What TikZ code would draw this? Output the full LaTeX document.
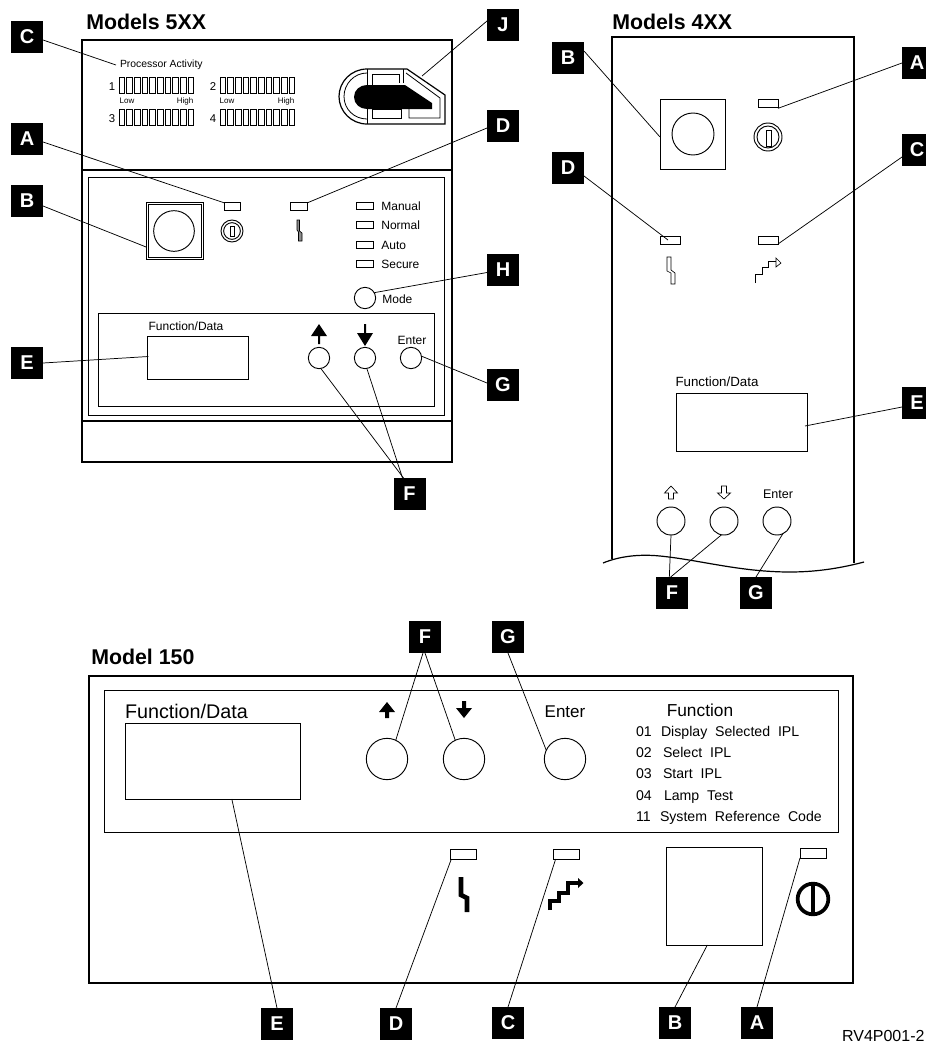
\documentclass[tikz,border=0pt]{standalone}
\usepackage{fontspec}
\setmainfont{Liberation Sans}
\usetikzlibrary{positioning}

\begin{document}
\begin{tikzpicture}[
    x=0.75pt, y=-0.75pt,
    node distance=6pt,
    tag/.style={rectangle, fill=black, text=white, minimum size=24pt, inner sep=0pt, outer sep=0pt, font=\bfseries\fontsize{15}{15}\selectfont},
    tagcut/.style={tag, minimum width=18pt},
    title/.style={anchor=west, inner sep=0pt, font=\bfseries\fontsize{16}{16}\selectfont},
    label/.style={inner sep=0pt, outer sep=0pt},
    led/.style={rectangle, draw, line width=0.6pt, fill=white, inner sep=0pt, outer sep=0pt, minimum width=12.5pt, minimum height=5.5pt},
    ledbig/.style={led, minimum width=19.5pt, minimum height=7.5pt},
    ledmid/.style={led, minimum width=15pt, minimum height=6pt},
    button/.style={circle, draw, line width=0.7pt, fill=white, inner sep=0pt, outer sep=0pt},
    screen/.style={rectangle, draw, line width=0.7pt, inner sep=0pt, outer sep=0pt},
    switchbox/.style={rectangle, draw, line width=0.7pt, inner sep=0pt, outer sep=0pt},
    panel/.style={draw, line width=1.1pt},
    subpanel/.style={draw, line width=0.7pt},
    leader/.style={draw, line width=0.55pt},
    cell/.style={draw, line width=0.45pt}
]

% Panels
\draw [panel] (82,40) rectangle (452,462);
\draw [subpanel, line width=0.9pt] (82,170) -- (452,170);
\draw [subpanel, line width=0.9pt] (82,421) -- (452,421);
\draw [subpanel] (88,177) rectangle (444,415);
\draw [subpanel] (98,313) rectangle (434,406);
\draw [panel] (612,559) -- (612,37) -- (854,37) -- (854,563);
\draw [line width=0.9pt] (603,563) .. controls (620,556) and (640,554) .. (660,556) .. controls (700,560) and (740,572) .. (790,572) .. controls (820,572) and (845,567) .. (864,562);
\draw [panel] (89,676) rectangle (853,983);
\draw [subpanel] (104,690) rectangle (838,832);

% Titles
\node (title5) [title] at (86,22) {Models 5XX};
\node (title4) [title] at (612,22) {Models 4XX};
\node (title1) [title] at (91,657) {Model 150};
\node (partno) [label, anchor=east, font=\fontsize{12}{12}\selectfont] at (924.5,1036) {RV4P001-2};

% Models 5XX: processor activity
\node (procact) [label, anchor=west, font=\fontsize{7.8}{8}\selectfont] at (120,65) {Processor Activity};
\foreach \num/\numx/\numy in {1/112/87, 2/213/87, 3/112/119, 4/213/119} {
    \node (proc\num) [label, font=\fontsize{8.5}{9}\selectfont] at (\numx,\numy) {\num};
}
\foreach \barx in {119, 220} {
    \foreach \bary in {77, 109} {
        \foreach \i in {0,...,9} {
            \draw [cell] ({\barx+\i*7.65},\bary) rectangle ({\barx+\i*7.65+5.6},\bary+16);
        }
    }
}
\foreach \txt/\txtx in {Low/127, High/185, Low/227, High/286} {
    \node [label, font=\fontsize{6}{6}\selectfont] at (\txtx,101) {\txt};
}

% Models 5XX: card slot
\draw [line width=0.9pt] (367,69) .. controls (351.5,69) and (339,81.5) .. (339,96.5) .. controls (339,111.5) and (351.5,124) .. (367,124) -- (445,124) -- (445,95) -- (407,69) -- cycle;
\draw [line width=0.6pt] (367,73) .. controls (354,73) and (344,84) .. (344,96.5) .. controls (344,109) and (354,119) .. (367,119);
\draw [line width=0.6pt] (367,69) -- (367,124);
\draw [line width=0.6pt] (372,109) -- (372,74) -- (399,74) -- (399,83);
\draw [line width=0.6pt] (372,109) rectangle (401,118);
\draw [line width=0.6pt] (403,83) -- (403,69);
\draw [line width=0.6pt] (406,73) -- (440,98) -- (440,118) -- (409,118) -- (409,109);
\fill [black] (367,85) .. controls (360,85) and (354,90) .. (354,97) .. controls (354,104) and (360,109) .. (367,109) -- (432,109) -- (432,103) -- (405,85) -- cycle;
\coordinate (slot) at (422,76);

% Models 5XX: controls
\node (switch5) [switchbox, minimum size=42.75pt] at (174.5,230.5) {};
\draw [line width=0.6pt] (148,204) rectangle (201,257);
\node (knob5) [button, minimum size=30.5pt] at (174,231) {};
\node (ledA5) [led] at (232.5,206.5) {};
\node (ledD5) [led] at (299,206.5) {};
\node (key5) [button, minimum size=16.5pt] at (232,231) {};
\node (keyin5) [button, minimum size=12.5pt] at (232,231) {};
\draw [line width=0.6pt] (230,226) rectangle (234,236);
\draw [line width=0.5pt, fill=black!45] (297,220) -- (299.5,220) -- (299.5,231) -- (302,233) -- (302,241) -- (298.5,241) -- (298.5,232) -- (297,230) -- cycle;
\foreach \mname/\my/\mtxt in {manual/206/Manual, normal/225/Normal, auto/245/Auto, secure/264/Secure} {
    \node (led\mname) [led] at (365,\my) {};
    \node [label, right=6pt of led\mname, font=\fontsize{9}{9}\selectfont] {\mtxt};
}
\node (mode) [button, minimum size=16pt] at (365,298) {};
\node [label, right=5pt of mode, yshift=-1pt, font=\fontsize{9}{9}\selectfont] {Mode};
\node (fd5) [label, font=\fontsize{9}{9}\selectfont] at (186,326) {Function/Data};
\node (display5) [screen, minimum width=75.75pt, minimum height=32.25pt] at (197.5,357.5) {};
\node (up5) [button, minimum size=16pt] at (319,358) {};
\node (down5) [button, minimum size=16pt] at (365,358) {};
\node (enter5) [button, minimum size=16pt] at (411,358) {};
\node [label, font=\fontsize{9}{9}\selectfont] at (412,340) {Enter};
\fill [black] (319,324) -- (327,336) -- (320,336) -- (320,344) -- (318,344) -- (318,336) -- (311,336) -- cycle;
\fill [black] (365,346) -- (357,333) -- (364,333) -- (364,324) -- (366,324) -- (366,333) -- (373,333) -- cycle;

% Models 5XX: tags
\node (tagC5) [tag] at (27,37) {C};
\node (tagA5) [tag] at (27,139) {A};
\node (tagB5) [tag] at (27,201) {B};
\node (tagE5) [tag] at (27,363) {E};
\node (tagJ5) [tag] at (503,25) {J};
\node (tagD5) [tag] at (503,126) {D};
\node (tagH5) [tag] at (503,269.5) {H};
\node (tagG5) [tag] at (503,385) {G};
\node (tagF5) [tag] at (409.5,494) {F};

% Models 5XX: connections
\draw [leader] ([yshift=-2.25pt]tagC5.east) -- ([xshift=-3pt]procact.west);
\draw [leader] ([yshift=-2.25pt]tagA5.east) -- (ledA5.north west);
\draw [leader] ([yshift=-3.75pt]tagB5.east) -- (switch5.210);
\draw [leader] (tagE5.east) -- ([yshift=0.75pt, xshift=1pt]display5.west);
\draw [leader] ([yshift=3pt]tagJ5.west) -- (slot);
\draw [leader] ([yshift=-1.5pt]tagD5.west) -- (ledD5.north east);
\draw [leader] ([yshift=-2.25pt]tagH5.west) -- (mode.30);
\draw [leader] ([yshift=1.5pt]tagG5.west) -- (enter5.10);
\draw [leader] ([xshift=-4.5pt]tagF5.north) -- (up5.-80);
\draw [leader] ([xshift=-5.25pt]tagF5.north) -- (down5.-80);

% Models 4XX: controls
\node (switch4) [switchbox, minimum width=48.75pt, minimum height=52.5pt] at (692.5,134) {};
\node (knob4) [button, minimum size=31.5pt] at (693,134) {};
\node (ledA4) [ledmid] at (768,103) {};
\node (key4) [button, minimum size=21pt] at (768,137) {};
\node (keyin4) [button, minimum size=16.5pt] at (768,137) {};
\draw [line width=0.6pt] (766,130) rectangle (771,146);
\node (ledD4) [ledmid] at (670,240) {};
\node (ledC4) [ledmid] at (768,240) {};
\draw [line width=0.5pt] (667,257) -- (671,257) -- (671,270) -- (675,273) -- (675,284) -- (671,284) -- (671,273) -- (667,271) -- cycle;
\draw [double, double distance=0.7pt, line width=0.45pt] (756,283) -- (756,275) -- (763,275) -- (763,268) -- (769,268) -- (769,262) -- (776,262);
\draw [line width=0.5pt, fill=white] (776,258) -- (781,263) -- (776,267) -- cycle;
\node (fd4) [label, font=\fontsize{10}{10}\selectfont] at (717,382) {Function/Data};
\node (display4) [screen, minimum width=98.25pt, minimum height=43.5pt] at (741.5,422) {};
\node (up4) [button, minimum size=21pt] at (671,521) {};
\node (down4) [button, minimum size=21pt] at (724,521) {};
\node (enter4) [button, minimum size=21pt] at (777,521) {};
\node [label, font=\fontsize{9.4}{10}\selectfont] at (778,494) {Enter};
\draw [line width=0.5pt] (671,486) -- (677.5,493) -- (673.5,493) -- (673.5,499) -- (668.5,499) -- (668.5,493) -- (664.5,493) -- cycle;
\draw [line width=0.5pt] (724,499) -- (730.5,493) -- (726.5,493) -- (726.5,486) -- (721.5,486) -- (721.5,493) -- (717.5,493) -- cycle;

% Models 4XX: tags
\node (tagB4) [tag] at (568,58) {B};
\node (tagD4) [tag] at (568,168) {D};
\node (tagA4) [tagcut] at (914,63) {\hspace*{4.5pt}A};
\node (tagC4) [tagcut] at (914,150) {\hspace*{4.5pt}C};
\node (tagE4) [tagcut] at (914,403) {\hspace*{4.5pt}E};
\node (tagF4) [tag] at (672,593) {F};
\node (tagG4) [tag] at (756,593) {G};

% Models 4XX: connections
\draw [leader] ([yshift=5.25pt]tagB4.east) -- ([yshift=-2.25pt]switch4.west);
\draw [leader] ([yshift=-6pt]tagD4.east) -- ([xshift=-1.5pt]ledD4.center);
\draw [leader] (tagA4.west) -- ([yshift=-1pt]ledA4.south east);
\draw [leader] ([yshift=-5.25pt]tagC4.west) -- (ledC4.south east);
\draw [leader] ([yshift=-3pt]tagE4.west) -- ([xshift=-1.5pt, yshift=-3pt]display4.east);
\draw [leader] ([xshift=-2pt]tagF4.north) -- (up4.south);
\draw [leader] ([xshift=-1pt]tagF4.north) -- (down4.-100);
\draw [leader] (tagG4.north) -- (enter4.-65);

% Model 150: controls
\node (fd1) [label, anchor=west, font=\fontsize{14.8}{15}\selectfont] at (125,711) {Function/Data};
\node (display1) [screen, minimum width=131.25pt, minimum height=57pt] at (212.5,761) {};
\node (up1) [button, minimum size=31pt] at (387,759) {};
\node (down1) [button, minimum size=31pt] at (464,759) {};
\node (enter1) [button, minimum size=31pt] at (565,759) {};
\node [label, font=\fontsize{12.75}{13}\selectfont] at (565,712) {Enter};
\fill [black] (387,702) -- (395,712) -- (389,712) -- (389,718) -- (385,718) -- (385,712) -- (379,712) -- cycle;
\fill [black] (464,718) -- (456,708) -- (462,708) -- (462,701) -- (466,701) -- (466,708) -- (472,708) -- cycle;
\node (func) [label, font=\fontsize{13}{13}\selectfont] at (700,710) {Function};
\foreach \code/\codey/\funcx/\functxt in {01/736/661/Display~~Selected~~IPL, 02/757/663/Select~~IPL, 03/778.5/663/Start~~IPL, 04/800/664/Lamp~~Test, 11/821/660/System~~Reference~~Code} {
    \node [label, anchor=base west, font=\fontsize{10.6}{11}\selectfont] at (636,\codey) {\code};
    \node [label, anchor=base west, font=\fontsize{10.6}{11}\selectfont] at (\funcx,\codey) {\functxt};
}
\node (ledD1) [ledbig] at (463,854) {};
\node (ledC1) [ledbig] at (566,854) {};
\node (ledA1) [ledbig] at (813,853) {};
\node (switch1) [switchbox, minimum width=72pt, minimum height=73.5pt] at (714,896) {};
\draw [line width=3.4pt] (461,877) -- (461,895) -- (467,898) -- (467,912);
\draw [line width=2.5pt] (550,910) -- (550,901) -- (559,901) -- (559,893) -- (568,893) -- (568,883) -- (579,883);
\fill [black] (578,878) -- (583.5,883) -- (578,888) -- cycle;
\node (power1) [circle, draw, line width=2.8pt, inner sep=0pt, minimum size=23pt] at (813,899) {};
\draw [line width=3.2pt] (813,884) -- (813,914);

% Model 150: tags
\node (tagF1) [tag] at (425,637) {F};
\node (tagG1) [tag] at (508,637) {G};
\node (tagE1) [tag] at (277,1024) {E};
\node (tagD1) [tag] at (396,1024) {D};
\node (tagC1) [tag] at (508,1023) {C};
\node (tagB1) [tag] at (675,1023) {B};
\node (tagA1) [tag] at (757,1023) {A};

% Model 150: connections
\draw [leader] ([xshift=-1.5pt]tagF1.south) -- (up1.65);
\draw [leader] (tagF1.south) -- (down1.115);
\draw [leader] ([xshift=-12pt]tagG1.south east) -- (enter1.155);
\draw [leader] (tagE1.north) -- ([xshift=14.5pt]display1.south);
\draw [leader] (tagD1.north) -- ([xshift=1pt]ledD1.south west);
\draw [leader] (tagC1.north) -- ([xshift=2pt]ledC1.south west);
\draw [leader] (tagB1.north) -- ([xshift=-5pt]switch1.south);
\draw [leader] (tagA1.north) -- (ledA1.south west);

\useasboundingbox (0,0) rectangle (926,1043);
\end{tikzpicture}
\end{document}
